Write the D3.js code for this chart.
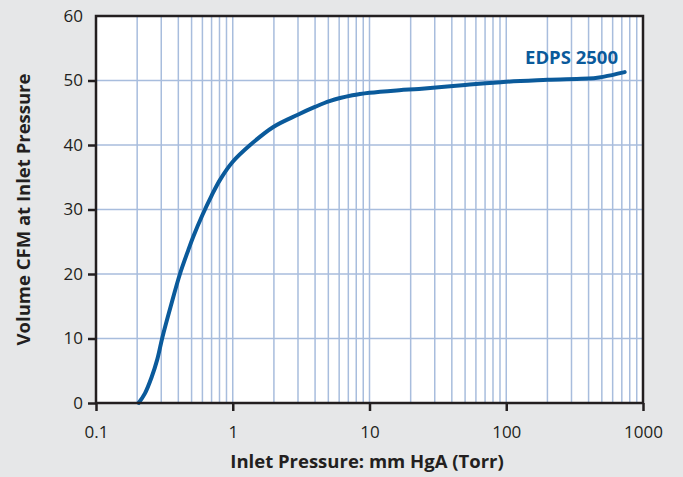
<!DOCTYPE html>
<html lang="en">
  <head>
    <meta charset="utf-8">
    <title>EDPS 2500 pumping speed</title>
    <script type="text/javascript" src="https://cdn.jsdelivr.net/npm/d3@7"></script>
    <style type="text/css">
      body {
        margin: 0;
        background-color: #e6e7e8;
      }
      svg text {
        font-family: "Open Sans", sans-serif;
        fill: #231f20;
      }
    </style>
  </head>
  <body>
    <script type="text/javascript">

      //Curve (pressure in Torr, volume in CFM)
      var pressure = [0.205, 0.228, 0.255, 0.281, 0.306, 0.352, 0.411, 0.473, 0.515, 0.599, 0.702, 0.807, 1, 1.34, 1.98, 2.99, 3.99, 5.1, 7.5, 10, 16.5, 23, 50, 100, 200, 450, 520, 735];
      var volume   = [0, 1.5, 4.0, 6.8, 10.2, 15, 20, 23.7, 25.8, 29.1, 32.2, 34.6, 37.4, 40, 42.8, 44.7, 45.9, 46.8, 47.7, 48.1, 48.5, 48.7, 49.3, 49.8, 50.1, 50.4, 50.6, 51.3];

      var xTicks = [0.1, 1, 10, 100, 1000];
      var xTickLabels = ["0.1", "1", "10", "100", "1000"];
      var yTicks = [0, 10, 20, 30, 40, 50, 60];
      var seriesName = "EDPS 2500";

      var w = 683;
      var h = 477;
      var margin = {top: 16, right: 40, bottom: 74, left: 96};

      var xScale = d3.scaleLog()
              .domain([0.1, 1000])
              .range([margin.left, w - margin.right]);

      var yScale = d3.scaleLinear()
              .domain([0, 60])
              .range([h - margin.bottom, margin.top]);

      var svg = d3.select("body")
            .append("svg")
            .attr("width", w)
            .attr("height", h);

      //Plot background
      svg.append("rect")
         .attr("x", xScale(0.1))
         .attr("y", yScale(60))
         .attr("width", xScale(1000) - xScale(0.1))
         .attr("height", yScale(0) - yScale(60))
         .attr("fill", "white");

      //Vertical grid: every 1..9 within each decade
      var minor = xScale.ticks().filter(function(d) {
         return d > 0.1 && d < 1000;
      });
      svg.append("g")
         .selectAll("line")
         .data(minor)
         .enter()
         .append("line")
         .attr("x1", function(d) { return xScale(d); })
         .attr("x2", function(d) { return xScale(d); })
         .attr("y1", yScale(0))
         .attr("y2", yScale(60))
         .attr("stroke", "#a8bddd")
         .attr("stroke-width", 1.5);

      //Horizontal grid
      svg.append("g")
         .selectAll("line")
         .data(yTicks.slice(1, -1))
         .enter()
         .append("line")
         .attr("x1", xScale(0.1))
         .attr("x2", xScale(1000))
         .attr("y1", function(d) { return yScale(d); })
         .attr("y2", function(d) { return yScale(d); })
         .attr("stroke", "#a8bddd")
         .attr("stroke-width", 1.5);

      //Curve
      var line = d3.line()
            .x(function(d) { return xScale(d[0]); })
            .y(function(d) { return yScale(d[1]); })
            .curve(d3.curveCatmullRom.alpha(0.5));

      svg.append("path")
         .datum(d3.zip(pressure, volume))
         .attr("d", line)
         .attr("fill", "none")
         .attr("stroke", "#0a5a9b")
         .attr("stroke-width", 4)
         .attr("stroke-linecap", "round");

      //Frame
      svg.append("rect")
         .attr("x", xScale(0.1))
         .attr("y", yScale(60))
         .attr("width", xScale(1000) - xScale(0.1))
         .attr("height", yScale(0) - yScale(60))
         .attr("fill", "none")
         .attr("stroke", "#231f20")
         .attr("stroke-width", 2.5);

      //Axes
      var xAxis = d3.axisBottom(xScale)
            .tickValues(xTicks)
            .tickFormat(function(d, i) { return xTickLabels[i]; })
            .tickSizeInner(8)
            .tickSizeOuter(0)
            .tickPadding(15);

      var yAxis = d3.axisLeft(yScale)
            .tickValues(yTicks)
            .tickSizeInner(8)
            .tickSizeOuter(0)
            .tickPadding(5);

      var gx = svg.append("g")
         .attr("transform", "translate(0," + yScale(0) + ")")
         .call(xAxis);

      var gy = svg.append("g")
         .attr("transform", "translate(" + xScale(0.1) + ",0)")
         .call(yAxis);

      [gx, gy].forEach(function(g) {
         g.select(".domain").remove();
         g.selectAll(".tick line")
          .attr("stroke", "#231f20")
          .attr("stroke-width", 2.5);
         g.selectAll(".tick text")
          .attr("font-size", 17)
          .attr("fill", "#231f20");
      });
      gy.selectAll(".tick")
        .filter(function(d) { return d === 60; })
        .select("line")
        .remove();

      //Series label
      svg.append("text")
         .attr("x", 618)
         .attr("y", 63.5)
         .attr("text-anchor", "end")
         .attr("font-size", 18.5)
         .attr("font-weight", "bold")
         .style("fill", "#0a5a9b")
         .text(seriesName);

      //Axis titles
      svg.append("text")
         .attr("x", 367)
         .attr("y", 468)
         .attr("text-anchor", "middle")
         .attr("font-size", 18.5)
         .attr("font-weight", "bold")
         .text("Inlet Pressure: mm HgA (Torr)");

      svg.append("text")
         .attr("transform", "translate(29.5," + ((yScale(0) + yScale(60)) / 2) + ") rotate(-90)")
         .attr("text-anchor", "middle")
         .attr("font-size", 18.5)
         .attr("font-weight", "bold")
         .text("Volume CFM at Inlet Pressure");

    </script>
  </body>
</html>
